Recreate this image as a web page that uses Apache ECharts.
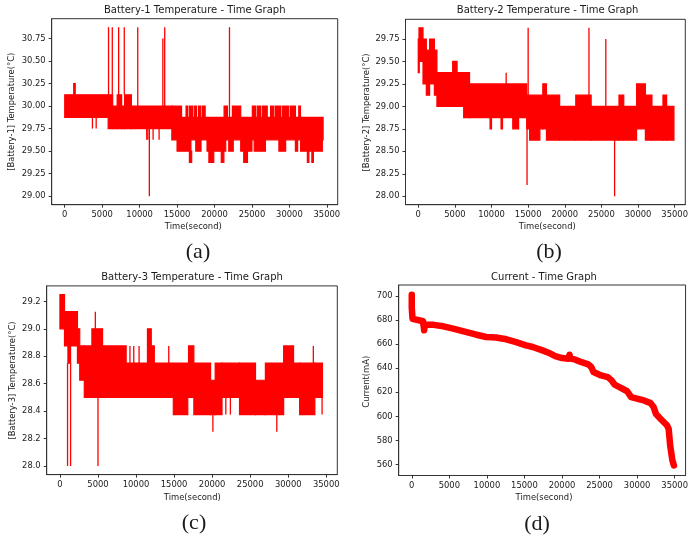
<!DOCTYPE html>
<html>
<head>
<meta charset="utf-8">
<title>Battery temperature / current - time graphs</title>
<script src="https://cdn.jsdelivr.net/npm/echarts@6.0.0/dist/echarts.min.js"></script>
<style>
  html, body { margin: 0; padding: 0; background: #fff; }
  #chart { width: 691px; height: 542px; }
</style>
</head>
<body>
<div id="chart"></div>
<script>
// tick labels
var timeTicks = [0, 5000, 10000, 15000, 20000, 25000, 30000, 35000];
var tickA = [29.0, 29.25, 29.5, 29.75, 30.0, 30.25, 30.5, 30.75];
var tickB = [28.0, 28.25, 28.5, 28.75, 29.0, 29.25, 29.5, 29.75];
var tickC = [28.0, 28.2, 28.4, 28.6, 28.8, 29.0, 29.2];
var tickD = [560, 580, 600, 620, 640, 660, 680, 700];

// temperature traces are very dense, so they are kept as
// [t start, t end, low, high] blocks plus single spikes [t, low, high]
var bandsA = [
  [0, 1200, 29.875, 30.125], [1200, 1400, 29.875, 30.25], [1400, 5800, 29.875, 30.125],
  [5800, 6400, 29.75, 30.125], [6400, 7000, 29.75, 30.0], [7000, 7600, 29.75, 30.125],
  [7600, 8000, 29.75, 30.0], [8000, 8900, 29.75, 30.125], [8900, 14300, 29.75, 30.0],
  [14300, 15600, 29.625, 30.0], [15600, 34500, 29.625, 29.875],
  // upper tufts
  [16200, 16400, 29.875, 30.0], [16625, 17070, 29.875, 30.0], [17290, 17600, 29.875, 30.0],
  [17870, 18180, 29.875, 30.0], [18400, 18750, 29.875, 30.0], [21280, 21720, 29.875, 30.0],
  [22390, 23500, 29.875, 30.0], [25050, 25490, 29.875, 30.0], [25710, 26160, 29.875, 30.0],
  [26380, 27040, 29.875, 30.0], [27490, 27930, 29.875, 30.0], [28150, 28820, 29.875, 30.0],
  [29040, 29925, 29.875, 30.0], [30150, 30810, 29.875, 30.0], [31250, 31480, 29.875, 30.0],
  // lower dips
  [15000, 16850, 29.5, 29.625], [17500, 18200, 29.5, 29.625], [19000, 21500, 29.5, 29.625],
  [21900, 22500, 29.5, 29.625], [23500, 25000, 29.5, 29.625], [25300, 26800, 29.5, 29.625],
  [28600, 29500, 29.5, 29.625], [30800, 31100, 29.5, 29.625], [31500, 34400, 29.5, 29.625],
  [16650, 16950, 29.375, 29.5], [19250, 19900, 29.375, 29.5], [20900, 21250, 29.375, 29.5],
  [23900, 24400, 29.375, 29.5], [32400, 32600, 29.375, 29.5], [33000, 33200, 29.375, 29.5]
];
var spikesA = [
  [3700, 29.75, 29.875], [4200, 29.75, 29.875],
  [5850, 30.125, 30.875], [6350, 30.125, 30.875], [7200, 30.125, 30.875],
  [7950, 30.125, 30.875], [9750, 30.0, 30.875],
  [10950, 29.625, 29.75], [11100, 29.625, 29.75], [11300, 29.0, 29.75],
  [11800, 29.625, 29.75], [12600, 29.625, 29.75],
  [13100, 30.0, 30.75], [13350, 30.0, 30.875], [22000, 29.875, 30.875]
];

var bandsB = [
  [0, 100, 29.375, 29.75], [100, 650, 29.5, 29.875], [650, 1100, 29.25, 29.75],
  [1100, 1550, 29.125, 29.625], [1550, 2200, 29.25, 29.75], [2200, 2550, 29.125, 29.625],
  [2550, 4700, 29.0, 29.375], [4700, 5300, 29.0, 29.5], [5300, 6200, 29.0, 29.375],
  [6200, 7000, 28.875, 29.375], [7000, 14800, 28.875, 29.25],
  [9800, 10000, 28.75, 28.875], [11300, 11500, 28.75, 28.875], [12900, 13700, 28.75, 28.875],
  [14800, 17000, 28.75, 29.125], [15200, 16600, 28.625, 28.75], [17000, 17500, 28.75, 29.25],
  [17500, 19300, 28.625, 29.125], [19300, 21500, 28.625, 29.0], [21500, 23600, 28.625, 29.125],
  [23600, 27400, 28.625, 29.0], [27400, 28050, 28.625, 29.125], [28050, 29800, 28.625, 29.0],
  [29800, 31000, 28.75, 29.25], [31000, 31900, 28.625, 29.125], [31900, 33400, 28.625, 29.0],
  [33400, 33900, 28.625, 29.125], [33900, 34900, 28.625, 29.0]
];
var spikesB = [
  [12000, 29.25, 29.375], [14850, 28.125, 28.75], [15000, 29.125, 29.875],
  [23300, 29.0, 29.875], [25600, 29.0, 29.75], [26800, 28.0, 28.625]
];

var bandsC = [
  [0, 600, 29.0, 29.25], [600, 1050, 28.875, 29.125], [1050, 1400, 28.75, 29.125],
  [1400, 2300, 28.875, 29.125], [2300, 2600, 28.75, 29.0], [2600, 3200, 28.625, 28.875],
  [3200, 4200, 28.5, 28.875], [4200, 5600, 28.5, 29.0], [5600, 8700, 28.5, 28.875],
  [8700, 16900, 28.5, 28.75], [11500, 12000, 28.75, 29.0], [12000, 12400, 28.75, 28.875],
  [14900, 16800, 28.375, 28.5], [16900, 17600, 28.5, 28.875], [17600, 19800, 28.375, 28.75],
  [19800, 20400, 28.375, 28.625], [20400, 21300, 28.375, 28.75], [21300, 23600, 28.5, 28.75],
  [23600, 25700, 28.375, 28.75], [25700, 27000, 28.375, 28.625], [27000, 29400, 28.375, 28.75],
  [29400, 30700, 28.5, 28.875], [30700, 31500, 28.5, 28.75], [31500, 33500, 28.375, 28.75],
  [33500, 34500, 28.5, 28.75]
];
var spikesC = [
  [1000, 28.0, 28.75], [1400, 28.0, 28.75], [4650, 29.0, 29.125], [5000, 28.0, 28.5],
  [9200, 28.75, 28.875], [9700, 28.75, 28.875], [10400, 28.75, 28.875], [14300, 28.75, 28.875],
  [20100, 28.25, 28.375], [21800, 28.375, 28.5], [22400, 28.375, 28.5],
  [28500, 28.25, 28.375], [33300, 28.75, 28.875], [34450, 28.375, 28.5]
];

// current (mA) over time (s)
var tCurrent = [0, 0, 100, 800, 1500, 1650, 1750, 2000, 2900, 4200,
  5500, 7300, 8600, 9900, 11200, 12600, 13900, 15200, 16100, 17400,
  18200, 19100, 20000, 20900, 21000, 21100, 21700, 22600, 23500, 23900,
  24200, 25200, 26100, 26600, 27000, 27900, 28700, 29200, 30100, 30900,
  31800, 32200, 32500, 33100, 34000, 34200, 34400, 34700, 34900];
var current = [701, 690, 681, 680, 679, 671.5, 676, 677, 676, 674.8,
  672.8, 670, 667.8, 665.9, 665.5, 664, 661.7, 659, 657.6, 654.8,
  652.9, 650, 648.4, 647.9, 651.2, 648, 647.3, 645, 643.2, 641,
  636.8, 634, 632.6, 629.9, 626.3, 623.5, 620.7, 616, 614.6, 613.2,
  611, 607.7, 602.1, 598, 592.4, 589.7, 575.8, 563.3, 559.2];

var RED = '#ff0000';
var INK = '#1a1a1a';
var FONT = 'DejaVu Sans';

var grids = [
  { left: 51.7, top: 18.7, width: 286, height: 186 },
  { left: 405.5, top: 19.3, width: 284.2, height: 185.4 },
  { left: 46.7, top: 285.9, width: 290.6, height: 188.7 },
  { left: 398.7, top: 285, width: 290.6, height: 190.5 }
];
var yRange = [[28.906, 30.969], [27.906, 29.969], [27.9375, 29.3125], [550.9, 709.1]];
var yTicks = [tickA, tickB, tickC, tickD];
var yDigits = [2, 2, 1, 0];

function renderBand(params, api) {
  var p0 = api.coord([api.value(0), api.value(3)]);
  var p1 = api.coord([api.value(1), api.value(2)]);
  return {
    type: 'rect',
    shape: { x: p0[0], y: p0[1], width: Math.max(p1[0] - p0[0], 1), height: p1[1] - p0[1] },
    style: { fill: RED, stroke: RED, lineWidth: 1.2 }
  };
}
function renderSpike(params, api) {
  var a = api.coord([api.value(0), api.value(1)]);
  var b = api.coord([api.value(0), api.value(2)]);
  return {
    type: 'line',
    shape: { x1: a[0], y1: a[1], x2: b[0], y2: b[1] },
    style: { stroke: RED, lineWidth: 1.3 }
  };
}

var xAxes = [], yAxes = [];
grids.forEach(function (g, i) {
  g.show = true;
  g.borderColor = '#333';
  g.borderWidth = 1;
  xAxes.push({
    type: 'value', gridIndex: i, min: -1740, max: 36450,
    axisLine: { show: true, onZero: false, lineStyle: { color: '#333' } },
    splitLine: { show: false },
    axisTick: { show: true, customValues: timeTicks, length: 3, lineStyle: { color: '#333' } },
    axisLabel: { customValues: timeTicks, fontSize: 8.4, fontFamily: FONT, color: INK, margin: 6,
      formatter: function (v) { return String(v); } }
  });
  yAxes.push({
    type: 'value', gridIndex: i, min: yRange[i][0], max: yRange[i][1],
    axisLine: { show: true, onZero: false, lineStyle: { color: '#333' } },
    splitLine: { show: false },
    axisTick: { show: true, customValues: yTicks[i], length: 3, lineStyle: { color: '#333' } },
    axisLabel: {
      customValues: yTicks[i], fontSize: 8.4, fontFamily: FONT, color: INK, margin: 6,
      formatter: (function (d) { return function (v) { return v.toFixed(d); }; })(yDigits[i])
    }
  });
});

var series = [];
[[bandsA, spikesA], [bandsB, spikesB], [bandsC, spikesC]].forEach(function (s, i) {
  series.push({ type: 'custom', xAxisIndex: i, yAxisIndex: i, renderItem: renderBand,
    encode: { x: [0, 1], y: [2, 3] }, data: s[0], silent: true });
  series.push({ type: 'custom', xAxisIndex: i, yAxisIndex: i, renderItem: renderSpike,
    encode: { x: 0, y: [1, 2] }, data: s[1], silent: true });
});
series.push({
  type: 'line', xAxisIndex: 3, yAxisIndex: 3, showSymbol: false,
  data: tCurrent.map(function (t, k) { return [t, current[k]]; }),
  lineStyle: { color: RED, width: 6.5, cap: 'round', join: 'round' }
});

function txt(text, x, y, size, family, rot) {
  return {
    type: 'text', x: x, y: y, rotation: rot || 0,
    style: { text: text, x: 0, y: 0, fontSize: size, fontFamily: family, fill: INK,
      align: 'center', verticalAlign: 'middle' }
  };
}
var graphics = [
  txt('Battery-1 Temperature - Time Graph', 194.7, 10, 10, FONT),
  txt('Battery-2 Temperature - Time Graph', 547.6, 10, 10, FONT),
  txt('Battery-3 Temperature - Time Graph', 192, 277.5, 10, FONT),
  txt('Current - Time Graph', 544, 277, 10, FONT),
  txt('Time(second)', 193.3, 226.7, 8.4, FONT),
  txt('Time(second)', 547.3, 226.7, 8.4, FONT),
  txt('Time(second)', 192.3, 498.3, 8.4, FONT),
  txt('Time(second)', 544, 497.7, 8.4, FONT),
  txt('[Battery-1] Temperature(°C)', 11.7, 111.7, 8.4, FONT, Math.PI / 2),
  txt('[Battery-2] Temperature(°C)', 366.7, 112.5, 8.4, FONT, Math.PI / 2),
  txt('[Battery-3] Temperature(°C)', 13.3, 380.5, 8.4, FONT, Math.PI / 2),
  txt('Current(mA)', 366.7, 381.7, 8.4, FONT, Math.PI / 2),
  txt('(a)', 198, 252.5, 22, 'Liberation Serif'),
  txt('(b)', 549, 252, 22, 'Liberation Serif'),
  txt('(c)', 194, 523, 22, 'Liberation Serif'),
  txt('(d)', 537, 524, 22, 'Liberation Serif')
];

var chart = echarts.init(document.getElementById('chart'), null, { renderer: 'canvas' });
chart.setOption({
  animation: false,
  backgroundColor: '#ffffff',
  grid: grids,
  xAxis: xAxes,
  yAxis: yAxes,
  series: series,
  graphic: graphics
});
</script>
</body>
</html>
